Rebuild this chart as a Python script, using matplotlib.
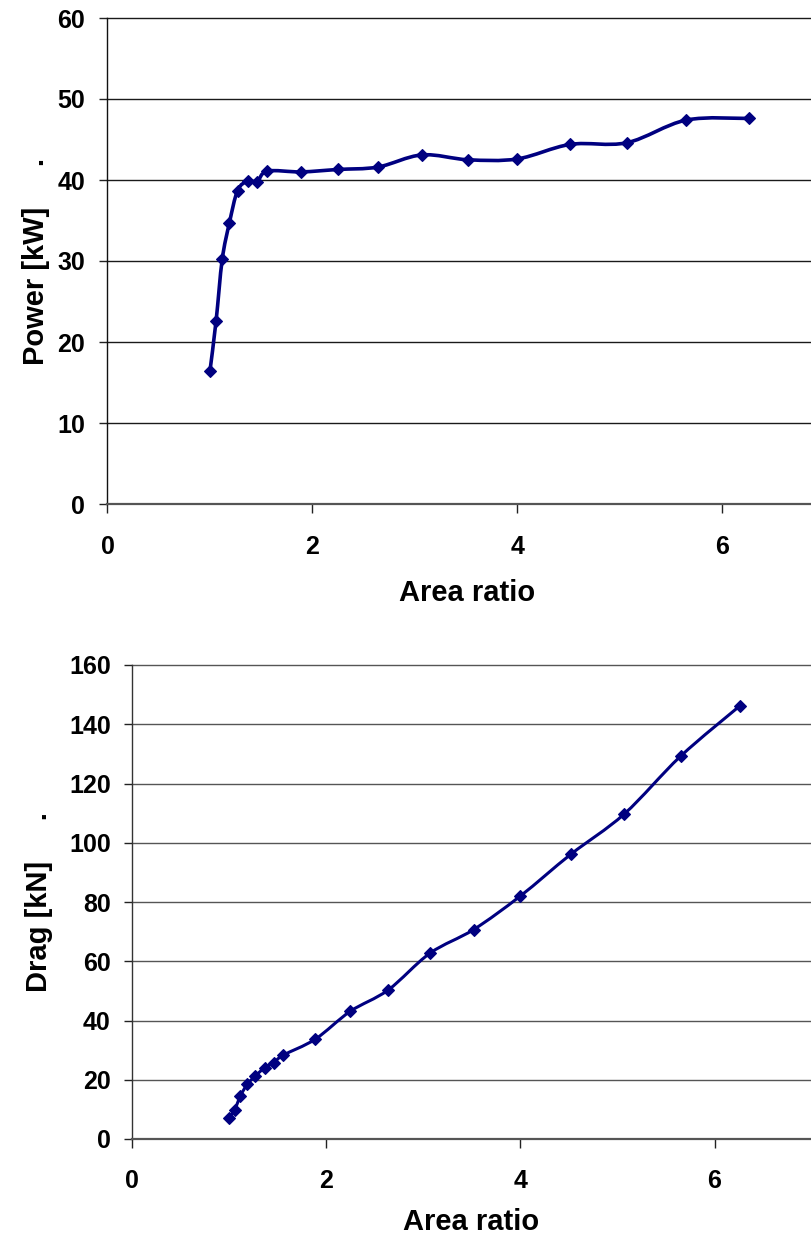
import numpy as np
import matplotlib
matplotlib.use("Agg")
import matplotlib.pyplot as plt
from matplotlib.path import Path
from matplotlib.patches import PathPatch

plt.rcParams['font.family'] = ['Liberation Sans', 'DejaVu Sans']
plt.rcParams['font.weight'] = 'bold'

# ---- data ----
area_ratio = [1.00, 1.06, 1.12, 1.19, 1.27, 1.37, 1.46, 1.56, 1.89, 2.25,
              2.64, 3.07, 3.52, 4.00, 4.52, 5.07, 5.65, 6.26]
power_kw = [16.4, 22.6, 30.2, 34.7, 38.7, 39.9, 39.8, 41.1, 41.0, 41.3,
            41.6, 43.1, 42.5, 42.6, 44.4, 44.6, 47.4, 47.6]
drag_kn = [7.0, 9.9, 14.6, 18.5, 21.2, 24.1, 25.7, 28.3, 33.7, 43.1,
           50.3, 62.7, 70.7, 82.0, 96.1, 109.7, 129.2, 146.2]

x_ticks = [0, 2, 4, 6]
power_ticks = [0, 10, 20, 30, 40, 50, 60]
drag_ticks = [0, 20, 40, 60, 80, 100, 120, 140, 160]

NAVY = '#000080'
W, H = 812, 1241


def smooth_path(xs, ys):
    """Catmull-Rom style smoothed line as cubic Bezier path (data coords)."""
    pts = np.column_stack([xs, ys]).astype(float)
    n = len(pts)
    verts = [pts[0]]
    codes = [Path.MOVETO]
    for i in range(n - 1):
        p0 = pts[i - 1] if i > 0 else pts[i]
        p1 = pts[i]
        p2 = pts[i + 1]
        p3 = pts[i + 2] if i + 2 < n else pts[i + 1]
        c1 = p1 + (p2 - p0) / 6.0
        c2 = p2 - (p3 - p1) / 6.0
        verts += [c1, c2, p2]
        codes += [Path.CURVE4] * 3
    return Path(np.array(verts), codes)


def style_axes(ax, yticks, grid_color, left_color):
    ax.set_xlim(0, 7)
    ax.set_ylim(yticks[0], yticks[-1])
    ax.set_xticks(x_ticks)
    ax.set_yticks(yticks)
    for s in ['top', 'right']:
        ax.spines[s].set_visible(False)
    ax.spines['left'].set_color(left_color)
    ax.spines['left'].set_linewidth(1.0)
    ax.spines['bottom'].set_color('#555555')
    ax.spines['bottom'].set_linewidth(1.6)
    for yv in yticks[1:]:
        ax.axhline(yv, color=grid_color, lw=1.0, zorder=1, clip_on=False)
    ax.tick_params(axis='y', direction='out', length=6, width=1.0,
                   color='#222222', labelsize=18)
    ax.tick_params(axis='x', direction='out', length=6.5, width=1.0,
                   color='#222222', labelsize=18)
    for lab in ax.get_xticklabels() + ax.get_yticklabels():
        lab.set_fontweight('bold')


fig = plt.figure(figsize=(W / 100, H / 100), dpi=100)

# ---- top: power ----
ax1 = fig.add_axes([107.5 / W, 1 - 504 / H, 717 / W, 486 / H])
style_axes(ax1, power_ticks, '#1a1a1a', '#111111')
ax1.tick_params(axis='y', pad=10)
ax1.tick_params(axis='x', pad=16)
ax1.add_patch(PathPatch(smooth_path(area_ratio, power_kw), fill=False,
                        edgecolor=NAVY, lw=2.6, transform=ax1.transData,
                        zorder=3))
ax1.plot(area_ratio, power_kw, linestyle='none', marker='D', ms=6.3,
         color=NAVY, mec=NAVY, mew=0.8, zorder=4)
ax1.set_xlabel('Area ratio', fontsize=21, fontweight='bold', va='center')
ax1.xaxis.set_label_coords((467 - 107.5) / 717, -(593 - 504) / 486)
ax1.set_ylabel('Power [kW]     .', fontsize=21, fontweight='bold', va='center')
ax1.yaxis.set_label_coords((36 - 107.5) / 717, 0.5)

# ---- bottom: drag ----
ax2 = fig.add_axes([131.7 / W, 1 - 1139 / H, 680 / W, 474 / H])
style_axes(ax2, drag_ticks, '#555555', '#333333')
ax2.tick_params(axis='y', pad=9)
ax2.tick_params(axis='x', pad=15)
ax2.add_patch(PathPatch(smooth_path(area_ratio, drag_kn), fill=False,
                        edgecolor=NAVY, lw=2.2, transform=ax2.transData,
                        zorder=3))
ax2.plot(area_ratio, drag_kn, linestyle='none', marker='D', ms=6.0,
         color=NAVY, mec=NAVY, mew=0.8, zorder=4)
ax2.set_xlabel('Area ratio', fontsize=21, fontweight='bold', va='center')
ax2.xaxis.set_label_coords((471 - 131.7) / 680, -(1222 - 1139) / 474)
ax2.set_ylabel('Drag [kN]     .', fontsize=21, fontweight='bold', va='center')
ax2.yaxis.set_label_coords((39 - 131.7) / 680, 0.5)

fig.savefig('out.png', dpi=100)
